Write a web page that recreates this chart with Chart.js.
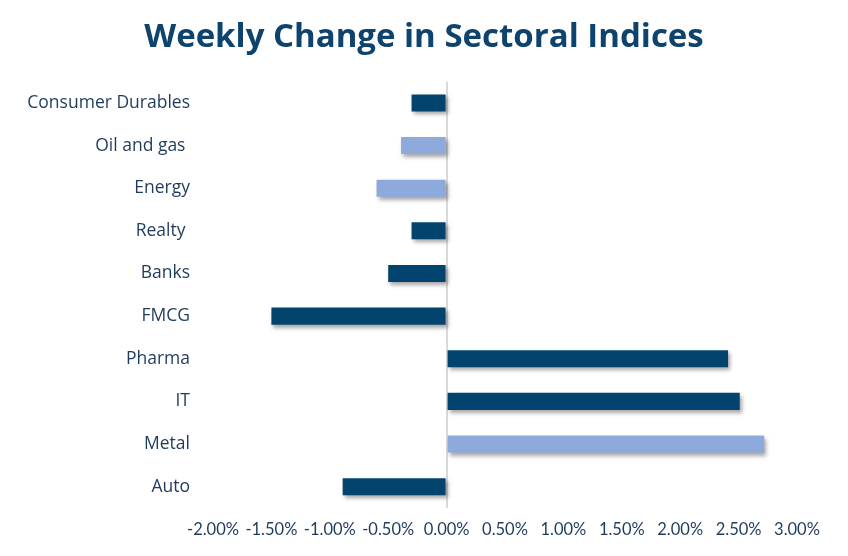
<!DOCTYPE html>
<html>
<head>
<meta charset="utf-8">
<script src="https://cdn.jsdelivr.net/npm/chart.js@4"></script>
<style>
  html, body { margin: 0; padding: 0; background: #fff; }
  #wrap { width: 848px; height: 556px; }
</style>
</head>
<body>
<div id="wrap"><canvas id="sectorChart" width="848" height="556"></canvas></div>
<script>
// sectors, top to bottom
const sectors = ['Consumer Durables', 'Oil and gas ', 'Energy', 'Realty ', 'Banks', 'FMCG', 'Pharma', 'IT', 'Metal', 'Auto'];
// weekly change in %
const weeklyChange = [-0.30, -0.39, -0.60, -0.30, -0.50, -1.50, 2.41, 2.51, 2.72, -0.89];
const xTicks = [-2, -1.5, -1, -0.5, 0, 0.5, 1, 1.5, 2, 2.5, 3];

const darkBlue = '#02446E';
const lightBlue = '#8EAADC';
const lightSectors = ['Oil and gas ', 'Energy', 'Metal'];

const barShadow = {
    id: 'barShadow',
    beforeDatasetsDraw(chart) {
        const ctx = chart.ctx;
        ctx.save();
        ctx.shadowColor = 'rgba(0,0,0,0.35)';
        ctx.shadowBlur = 4;
        ctx.shadowOffsetX = 2;
        ctx.shadowOffsetY = 3;
    },
    afterDatasetsDraw(chart) {
        chart.ctx.restore();
    }
};

new Chart(document.getElementById('sectorChart'), {
    type: 'bar',
    data: {
        labels: sectors,
        datasets: [{
            data: weeklyChange,
            backgroundColor: sectors.map(s => lightSectors.includes(s) ? lightBlue : darkBlue),
            barPercentage: 0.4,
            categoryPercentage: 1
        }]
    },
    options: {
        indexAxis: 'y',
        responsive: false,
        animation: false,
        layout: { padding: 0 },
        plugins: {
            legend: { display: false },
            tooltip: { enabled: false },
            title: {
                display: true,
                text: 'Weekly Change in Sectoral Indices',
                color: '#0D436C',
                font: { family: 'Open Sans', size: 33, weight: 'bold' },
                padding: { top: 18, bottom: 24 }
            }
        },
        scales: {
            x: {
                min: -2,
                max: 3,
                afterBuildTicks: axis => { axis.ticks = xTicks.map(v => ({ value: v })); },
                afterFit: axis => { axis.height = 48; },
                border: { display: false },
                grid: {
                    drawTicks: false,
                    color: c => c.tick && c.tick.value === 0 ? '#D9D9D9' : 'rgba(0,0,0,0)',
                    lineWidth: c => c.tick && c.tick.value === 0 ? 2 : 0
                },
                ticks: {
                    color: '#1F3B5C',
                    padding: 12,
                    maxRotation: 0,
                    autoSkip: false,
                    font: { family: 'Lato', size: 16.5 },
                    callback: v => v.toFixed(2) + '%'
                }
            },
            y: {
                afterFit: axis => { axis.width = 213; },
                border: { display: false },
                grid: { display: false },
                ticks: {
                    color: '#1F3B5C',
                    padding: 15,
                    font: { family: 'Open Sans', size: 17.5 }
                }
            },
            // empty right-hand axis, only keeps room on the right
            yRight: {
                position: 'right',
                afterFit: axis => { axis.width = 51; },
                border: { display: false },
                grid: { display: false },
                ticks: { display: false }
            }
        }
    },
    plugins: [barShadow]
});
</script>
</body>
</html>
